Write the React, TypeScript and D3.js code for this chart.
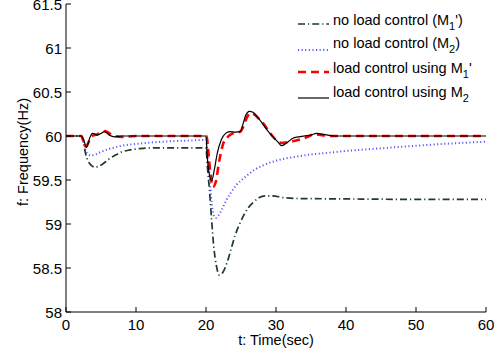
import React from "react";
import * as d3 from "d3";

const xTicks = [0, 10, 20, 30, 40, 50, 60];
const yTicks = [58, 58.5, 59, 59.5, 60, 60.5, 61, 61.5];

const tNoCtrlM1 = [0, 2.2, 2.5, 2.8, 3.2, 3.7, 4.1, 4.6, 5.2, 6, 7, 8, 9, 10, 11, 12, 15, 20.0, 20.2, 20.5, 20.8, 21.1, 21.5, 21.9, 22.4, 23.0, 23.6, 24.2, 24.8, 25.4, 26, 26.8, 27.6, 28.5, 29.5, 31, 33, 40, 50, 60];
const fNoCtrlM1 = [60, 60, 59.93, 59.8, 59.71, 59.66, 59.645, 59.655, 59.68, 59.73, 59.78, 59.82, 59.84, 59.852, 59.86, 59.864, 59.864, 59.864, 59.65, 59.38, 59.05, 58.75, 58.52, 58.42, 58.45, 58.56, 58.72, 58.88, 59.0, 59.1, 59.18, 59.25, 59.3, 59.32, 59.32, 59.3, 59.29, 59.285, 59.28, 59.28];

const tNoCtrlM2 = [0, 2.2, 2.5, 2.8, 3.2, 3.6, 4.2, 5, 6, 7, 8, 10, 12, 15, 18, 20.0, 20.2, 20.5, 20.8, 21.1, 21.4, 21.8, 22.3, 22.9, 23.6, 24.3, 25.1, 26, 27, 28, 30, 32.5, 35, 37.5, 40, 45, 50, 55, 60];
const fNoCtrlM2 = [60, 60, 59.93, 59.84, 59.79, 59.78, 59.79, 59.82, 59.85, 59.87, 59.89, 59.91, 59.925, 59.94, 59.95, 59.955, 59.82, 59.55, 59.25, 59.1, 59.07, 59.1, 59.17, 59.27, 59.36, 59.44, 59.5, 59.56, 59.62, 59.66, 59.72, 59.76, 59.79, 59.81, 59.83, 59.86, 59.89, 59.915, 59.935];

const tCtrlM1 = [0, 2.2, 2.5, 2.8, 3.1, 3.5, 4.0, 4.5, 5.0, 5.6, 6.2, 7, 8, 10, 15, 20.1, 20.3, 20.6, 21.0, 21.4, 21.9, 22.4, 23.0, 23.6, 24.2, 24.9, 25.4, 25.9, 26.4, 27, 27.6, 28.2, 29, 29.8, 30.8, 31.6, 32.4, 33.4, 34.5, 35.5, 36.5, 38, 45, 60];
const fCtrlM1 = [60, 60, 59.94, 59.88, 59.91, 59.98, 60.01, 60.02, 60.04, 60.055, 60.03, 60.0, 59.99, 60.0, 60.0, 60.0, 59.85, 59.6, 59.42, 59.48, 59.72, 59.9, 59.98, 60.02, 60.035, 60.05, 60.12, 60.22, 60.26, 60.24, 60.19, 60.14, 60.05, 59.97, 59.92, 59.93, 59.94, 59.96, 59.99, 60.02, 60.01, 60.0, 60.0, 60.0];

const tCtrlM2 = [0, 2.2, 2.5, 2.95, 3.4, 3.8, 4.5, 5.0, 5.5, 6.2, 6.9, 8, 10, 20.0, 20.15, 20.4, 20.8, 21.2, 21.6, 22.2, 22.8, 23.4, 24.2, 24.9, 25.3, 25.7, 26.2, 26.7, 27.3, 28, 28.8, 29.6, 30.3, 30.8, 31.5, 32.4, 33.2, 34, 35, 35.8, 37, 38.5, 42, 60];
const fCtrlM2 = [60, 60, 59.96, 59.87, 59.98, 60.03, 60.01, 60.03, 60.05, 60.01, 59.99, 60.0, 60.0, 60.0, 59.8, 59.6, 59.49, 59.62, 59.8, 59.96, 60.03, 60.05, 60.045, 60.05, 60.14, 60.24, 60.28, 60.27, 60.22, 60.15, 60.06, 59.99, 59.93, 59.89, 59.92, 59.975, 59.99, 60.0, 60.01, 60.03, 60.015, 60.0, 60.0, 60.0];

const FONT = "'Liberation Sans', Arial, Helvetica, sans-serif";

const W = 502, H = 355;
const x0 = 66, x1 = 486, yTop = 4, yBot = 312;

export default function App() {
  const x = d3.scaleLinear().domain([0, 60]).range([x0, x1]);
  const y = d3.scaleLinear().domain([58, 61.5]).range([yBot, yTop]);
  const line = d3
    .line<[number, number]>()
    .x((d) => x(d[0]))
    .y((d) => y(d[1]))
    .curve(d3.curveMonotoneX);
  const mk = (t: number[], f: number[]) => line(t.map((v, i) => [v, f[i]] as [number, number])) || "";

  const series = [
    { d: mk(tNoCtrlM1, fNoCtrlM1), stroke: "#1e3b2c", w: 1.7, dash: "7,3,1.2,3", op: 1 },
    { d: mk(tNoCtrlM2, fNoCtrlM2), stroke: "#3535ff", w: 2, dash: "1.1,2.5", op: 0.85 },
    { d: mk(tCtrlM1, fCtrlM1), stroke: "#ff0000", w: 2.6, dash: "8,5", op: 1 },
    { d: mk(tCtrlM2, fCtrlM2), stroke: "#000000", w: 1.2, dash: "none", op: 1 },
  ];

  const legend = [
    { y: 25, ly: 24, main: "no load control (M", sub: "1", tail: "')", s: series[0] },
    { y: 48, ly: 50, main: "no load control (M", sub: "2", tail: ")", s: series[1] },
    { y: 73, ly: 72, main: "load control using M", sub: "1", tail: "'", s: series[2] },
    { y: 97, ly: 98, main: "load control using M", sub: "2", tail: "", s: series[3] },
  ];

  return (
    <svg width={W} height={H} style={{ position: "absolute", left: 0, top: 0, background: "#fff" }} fontFamily={FONT}>
      <rect x={0} y={0} width={W} height={H} fill="#fff" />
      {series.map((s, i) => (
        <path key={i} d={s.d} fill="none" stroke={s.stroke} strokeWidth={s.w} strokeDasharray={s.dash} opacity={s.op} strokeLinejoin="round" />
      ))}
      {/* axes */}
      <line x1={x0} y1={yTop} x2={x0} y2={yBot} stroke="#000" strokeWidth={1} />
      <line x1={x0} y1={yBot} x2={x1} y2={yBot} stroke="#000" strokeWidth={1} />
      {yTicks.map((v) => (
        <g key={v}>
          <line x1={x0} x2={x0 + 5} y1={y(v)} y2={y(v)} stroke="#000" />
          <text x={x0 - 4} y={y(v) + 5.5} textAnchor="end" fontSize={15} fill="#000">{v}</text>
        </g>
      ))}
      {xTicks.map((v) => (
        <g key={v}>
          <line x1={x(v)} x2={x(v)} y1={yBot} y2={yBot - 5} stroke="#000" />
          <text x={x(v)} y={330} textAnchor="middle" fontSize={15} fill="#000">{v}</text>
        </g>
      ))}
      <text x={(x0 + x1) / 2} y={345} textAnchor="middle" fontSize={14.5} fill="#000">t: Time(sec)</text>
      <text transform={`translate(28,${(yTop + yBot) / 2 - 6}) rotate(-90)`} textAnchor="middle" fontSize={14.5} fill="#000">f: Frequency(Hz)</text>
      {legend.map((l, i) => (
        <g key={i}>
          <line x1={298} x2={329} y1={l.ly} y2={l.ly} stroke={l.s.stroke} strokeWidth={l.s.w} strokeDasharray={l.s.dash} opacity={l.s.op} />
          <text x={333} y={l.y} fontSize={14.5} fill="#000">
            {l.main}
            <tspan fontSize={11} dy={5}>{l.sub}</tspan>
            <tspan dy={-5}>{l.tail}</tspan>
          </text>
        </g>
      ))}
    </svg>
  );
}
